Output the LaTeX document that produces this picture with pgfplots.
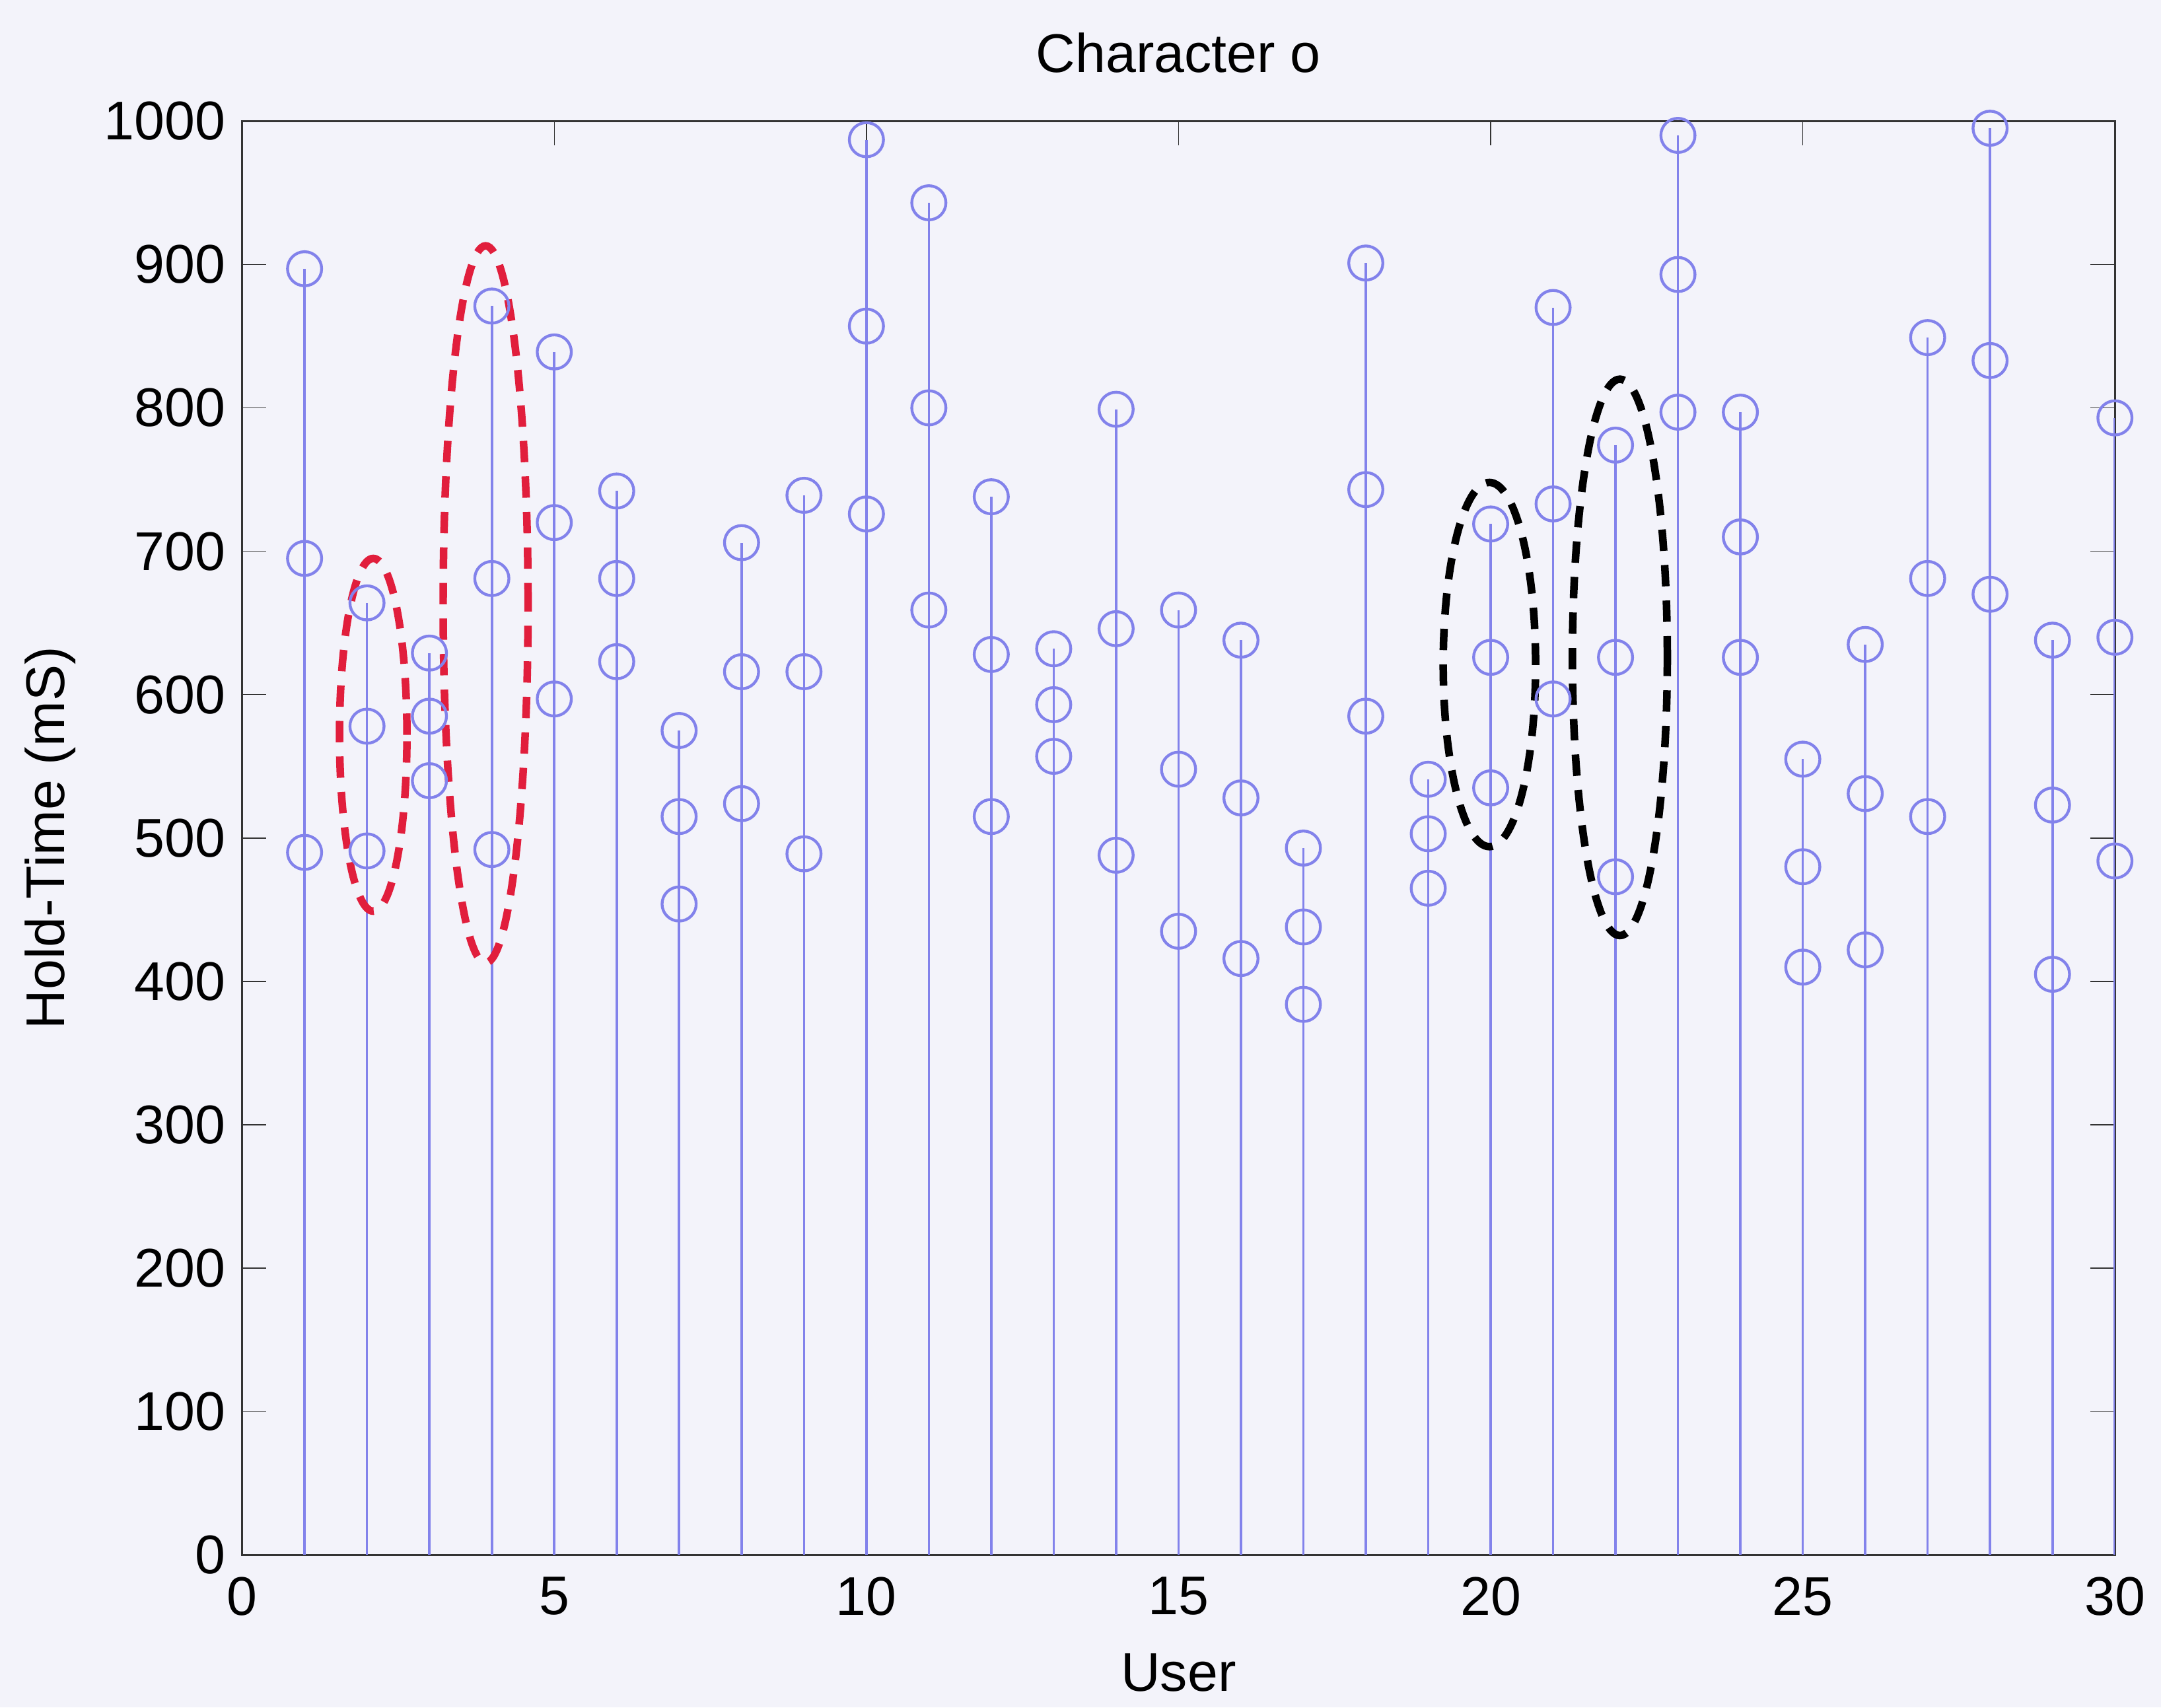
\documentclass[border=0pt]{standalone}
\usepackage{pgfplots}
\pgfplotsset{compat=1.18}
\usepackage{fontspec}
\setmainfont{Liberation Sans}
\usetikzlibrary{backgrounds}
\definecolor{stem}{RGB}{130,130,235}
\definecolor{bg}{RGB}{243,243,250}
\definecolor{dred}{RGB}{225,30,60}
\pgfplotstableread{
x y
1 897
1 695
1 490
2 664
2 578
2 491
3 629
3 585
3 540
4 871
4 681
4 492
5 839
5 720
5 597
6 742
6 681
6 623
7 575
7 515
7 454
8 706
8 616
8 524
9 739
9 616
9 489
10 987
10 857
10 726
11 943
11 800
11 659
12 738
12 628
12 515
13 632
13 593
13 557
14 799
14 646
14 488
15 659
15 548
15 435
16 638
16 528
16 416
17 493
17 438
17 384
18 901
18 743
18 585
19 541
19 503
19 465
20 719
20 626
20 535
21 870
21 733
21 597
22 774
22 626
22 473
23 990
23 893
23 797
24 797
24 710
24 626
25 555
25 480
25 410
26 635
26 531
26 422
27 849
27 681
27 515
28 995
28 833
28 670
29 638
29 523
29 405
30 793
30 640
30 484
}\datatable
\begin{document}
\begin{tikzpicture}[background rectangle/.style={fill=bg}, show background rectangle, inner frame sep=0pt]
\begin{axis}[
  name=main,
  scale only axis,
  width=13.89cm, height=10.635cm,
  xmin=0, xmax=30, ymin=0, ymax=1000,
  xtick={0,5,...,30}, ytick={0,100,...,1000},
  tick align=inside,
  major tick length=0.18cm,
  axis line style={black!80},
  tick style={black!80},
  font=\fontsize{11.5}{13}\selectfont,
  /pgf/number format/assume math mode=true,
  /pgf/number format/1000 sep={},
  title={Character o},
  xlabel={User},
  ylabel={Hold-Time (mS)},
  xticklabel style={yshift=-0.04cm},
  xlabel style={yshift=-0.04cm},
  ylabel style={yshift=-0.03cm},
  title style={yshift=0.02cm},
  axis background/.style={fill=bg},
]
\addplot[ycomb, stem, line width=0.5pt, mark=o, mark size=3.6pt, mark options={stem, line width=0.6pt}] table[x=x,y=y] {\datatable};
\draw[dred, line width=1.6pt, dash pattern=on 4.5pt off 3pt] (axis cs:2.1,572) ellipse [x radius=0.54, y radius=123];
\draw[dred, line width=1.6pt, dash pattern=on 4.5pt off 3pt] (axis cs:3.9,663) ellipse [x radius=0.68, y radius=250];
\draw[black, line width=1.6pt, dash pattern=on 4.5pt off 3pt] (axis cs:19.98,621) ellipse [x radius=0.74, y radius=127];
\draw[black, line width=1.6pt, dash pattern=on 4.5pt off 3pt] (axis cs:22.07,626) ellipse [x radius=0.76, y radius=194];
\end{axis}
\path (main.south west) ++(-1.796cm,-1.061cm);
\path (main.north east) ++(0.316cm,0.898cm);
\useasboundingbox ([xshift=-1.796cm,yshift=-1.061cm]main.south west) rectangle ([xshift=0.316cm,yshift=0.898cm]main.north east);
\end{tikzpicture}
\end{document}
